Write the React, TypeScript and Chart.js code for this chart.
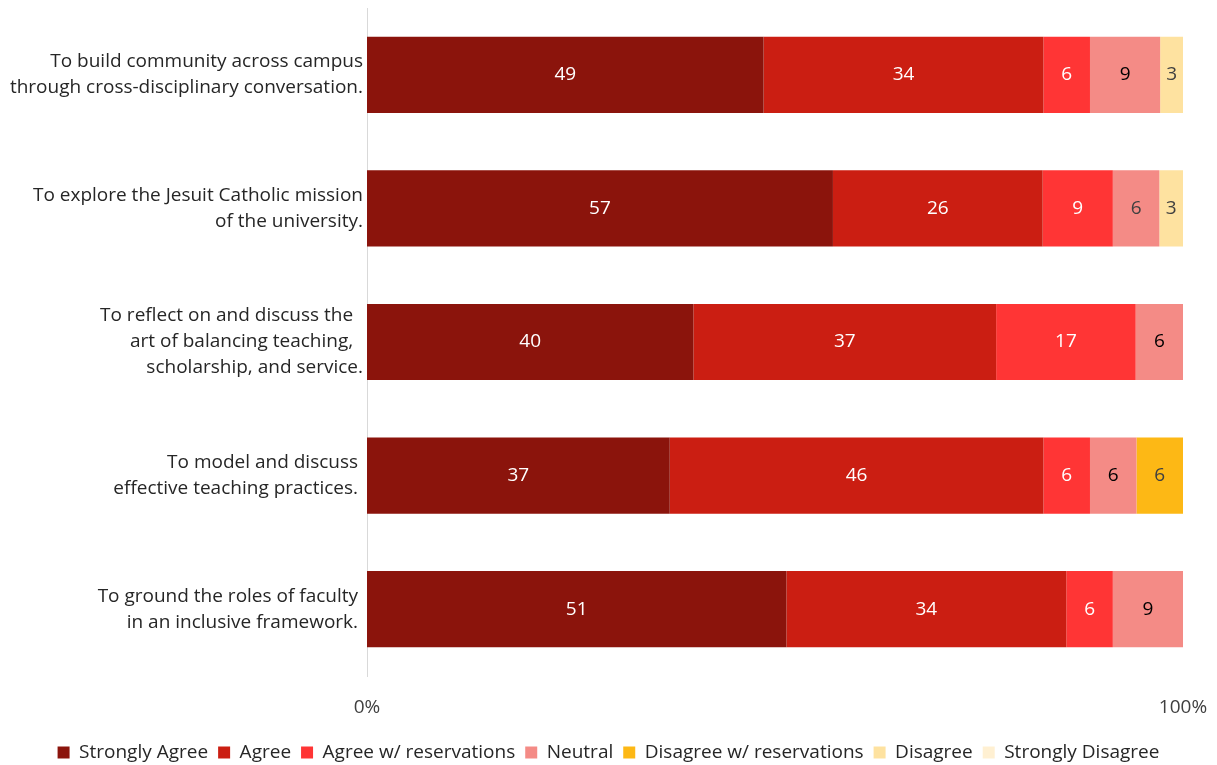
import React, { useEffect, useRef } from "react";
import { Chart, registerables } from "chart.js";

Chart.register(...registerables);

const categories: string[][] = [
  ["To build community across campus", "through cross-disciplinary conversation."],
  ["To explore the Jesuit Catholic mission", "of the university."],
  ["To reflect on and discuss the  ", "art of balancing teaching,  ", "scholarship, and service."],
  ["To model and discuss ", "effective teaching practices. "],
  ["To ground the roles of faculty ", "in an inclusive framework. "],
];

const seriesNames = [
  "Strongly Agree",
  "Agree",
  "Agree w/ reservations",
  "Neutral",
  "Disagree w/ reservations",
  "Disagree",
  "Strongly Disagree",
];

const stronglyAgree = [48.6, 57.1, 40.0, 37.1, 51.4];
const agree = [34.3, 25.7, 37.1, 45.8, 34.3];
const agreeReservations = [5.7, 8.6, 17.1, 5.7, 5.7];
const neutral = [8.6, 5.7, 5.8, 5.7, 8.6];
const disagreeReservations = [0, 0, 0, 5.7, 0];
const disagree = [2.8, 2.9, 0, 0, 0];
const stronglyDisagree = [0, 0, 0, 0, 0];

const xTicks = [0, 100];

const colors = ["#8B140C", "#CB1E12", "#FF3535", "#F48B86", "#FDB815", "#FEE2A0", "#FFF0D2"];
const labelColors: (string | string[])[] = [
  "#FFFFFF",
  "#FFFFFF",
  "#FFFFFF",
  ["#000000", "#404040", "#000000", "#000000", "#000000"],
  "#404040",
  "#404040",
  "#404040",
];

const FONT = "'Open Sans', 'Noto Sans', sans-serif";

const valueLabelPlugin = {
  id: "valueLabels",
  afterDatasetsDraw(chart: any) {
    const ctx = chart.ctx;
    ctx.save();
    ctx.font = `19px ${FONT}`;
    ctx.textAlign = "center";
    ctx.textBaseline = "middle";
    chart.data.datasets.forEach((ds: any, di: number) => {
      const meta = chart.getDatasetMeta(di);
      if (meta.hidden) return;
      meta.data.forEach((el: any, i: number) => {
        const v = ds.data[i];
        if (!v) return;
        const c = labelColors[di];
        ctx.fillStyle = Array.isArray(c) ? c[i] : c;
        const x = (el.x + el.base) / 2;
        ctx.fillText(String(Math.round(v)), x, el.y);
      });
    });
    ctx.restore();
  },
};

export default function App() {
  const ref = useRef<HTMLCanvasElement>(null);
  useEffect(() => {
    document.body.style.margin = "0";
    const seriesData = [
      stronglyAgree,
      agree,
      agreeReservations,
      neutral,
      disagreeReservations,
      disagree,
      stronglyDisagree,
    ];
    const chart = new Chart(ref.current!, {
      type: "bar",
      data: {
        labels: categories,
        datasets: seriesNames.map((name, i) => ({
          label: name,
          data: seriesData[i],
          backgroundColor: colors[i],
          borderWidth: 0,
          categoryPercentage: 0.57,
          barPercentage: 1,
        })),
      },
      options: {
        indexAxis: "y",
        animation: false,
        responsive: true,
        maintainAspectRatio: false,
        layout: { padding: { top: 8, left: 0, right: 0, bottom: -7 } },
        scales: {
          x: {
            stacked: true,
            min: 0,
            max: 100,
            afterBuildTicks(scale: any) {
              scale.ticks = xTicks.map((v) => ({ value: v }));
            },
            afterFit(scale: any) {
              scale.height = 57;
              scale.paddingLeft = 0;
              scale.paddingRight = 34;
            },
            ticks: {
              callback: (v: any) => v + "%",
              color: "#404040",
              font: { family: FONT, size: 19 },
              padding: 12,
              maxRotation: 0,
            },
            grid: { display: false },
            border: { display: false },
          },
          y: {
            stacked: true,
            afterFit(scale: any) {
              scale.width = 367;
              scale.paddingTop = 0;
              scale.paddingBottom = 0;
            },
            ticks: {
              color: "#262626",
              font: { family: FONT, size: 19, lineHeight: 1.37 },
              padding: 4,
              autoSkip: false,
            },
            grid: { display: false, drawTicks: false },
            border: { display: true, color: "#D9D9D9", width: 1 },
          },
        },
        plugins: {
          legend: {
            position: "bottom",
            labels: {
              boxWidth: 12,
              boxHeight: 12,
              padding: 10,
              color: "#262626",
              font: { family: FONT, size: 19 },
            },
          },
          tooltip: { enabled: false },
        },
      },
      plugins: [valueLabelPlugin],
    });
    return () => chart.destroy();
  }, []);
  return (
    <div style={{ position: "fixed", left: 0, top: 0, width: 1217, height: 765 }}>
      <canvas ref={ref} />
    </div>
  );
}
